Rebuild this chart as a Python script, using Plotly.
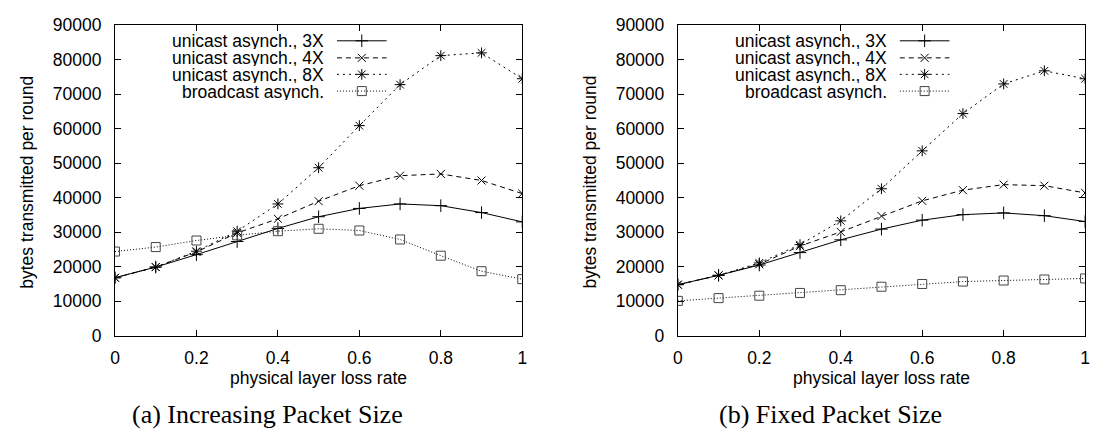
import plotly.graph_objects as go

# x values: physical layer loss rate
loss_rate = [0, 0.1, 0.2, 0.3, 0.4, 0.5, 0.6, 0.7, 0.8, 0.9, 1.0]
x_tick_vals = [0, 0.2, 0.4, 0.6, 0.8, 1.0]
x_tick_text = ["0", "0.2", "0.4", "0.6", "0.8", "1"]
y_tick_vals = [0, 10000, 20000, 30000, 40000, 50000, 60000, 70000, 80000, 90000]

series_names = ["unicast asynch., 3X", "unicast asynch., 4X",
                "unicast asynch., 8X", "broadcast asynch."]

# (a) Increasing Packet Size
inc_uni_3x = [16800, 19900, 23500, 27300, 31100, 34500, 36900, 38200, 37700, 35700, 33000]
inc_uni_4x = [16800, 19900, 24300, 29800, 33900, 39000, 43500, 46400, 46900, 45000, 41200]
inc_uni_8x = [16800, 19900, 24500, 30300, 38200, 48700, 60900, 72800, 81200, 82000, 74500]
inc_bcast = [24400, 25700, 27600, 29100, 30300, 31000, 30500, 27900, 23200, 18700, 16400]

# (b) Fixed Packet Size
fix_uni_3x = [14800, 17500, 20500, 24100, 27800, 30900, 33500, 35100, 35600, 34800, 33100]
fix_uni_4x = [14800, 17500, 20700, 26000, 30100, 34700, 39100, 42200, 43800, 43500, 41400]
fix_uni_8x = [14800, 17500, 21100, 26400, 33300, 42600, 53600, 64400, 73000, 76800, 74500]
fix_bcast = [10100, 10900, 11600, 12400, 13200, 14200, 15000, 15700, 16000, 16300, 16600]

panels = [
    ("(a) Increasing Packet Size", [inc_uni_3x, inc_uni_4x, inc_uni_8x, inc_bcast]),
    ("(b) Fixed Packet Size", [fix_uni_3x, fix_uni_4x, fix_uni_8x, fix_bcast]),
]

# gnuplot-like line/point styles
dashes = ["solid", "5px,4px", "2px,4px", "1px,2px"]
symbols = ["cross-thin", "x-thin", "asterisk-open", "square-open"]
marker_colors = ["black", "black", "black", "#444444"]
marker_sizes = [9, 8, 9, 9]

W, H = 1101, 446
SANS = "Liberation Sans, Arial, sans-serif"
SERIF = "Liberation Serif, Times New Roman, serif"
FS = 17.5

# plot frames in pixels
x_frames = [(111, 522), (679, 1090)]
y_top, y_bot = 16, 341
caption_centers = [265, 833]

# legend geometry (fractions of the plot frame)
leg_text_x = 0.516
leg_line = (0.545, 0.667)
leg_mark_x = 0.606
leg_rows = [0.950, 0.895, 0.842, 0.788]
leg_row_px = 17

fig = go.Figure()
layout = dict(
    width=W, height=H,
    margin=dict(l=0, r=0, t=0, b=0),
    paper_bgcolor="white", plot_bgcolor="white",
    showlegend=False,
    annotations=[],
)

y_dom = [(H - y_bot) / H, (H - y_top) / H]

for p, (caption, series) in enumerate(panels):
    xa = "x" if p == 0 else "x2"
    ya = "y" if p == 0 else "y2"
    xl = "x3" if p == 0 else "x4"
    yl = "y3" if p == 0 else "y4"
    x0, x1 = x_frames[p]
    x_dom = [x0 / W, x1 / W]

    common = dict(ticks="inside", ticklen=6, tickwidth=1, tickcolor="black",
                  showline=True, linecolor="black", linewidth=1, mirror="allticks",
                  showgrid=False, zeroline=False,
                  tickfont=dict(family=SANS, size=FS, color="black"))
    layout["xaxis" + ("" if p == 0 else "2")] = dict(
        domain=x_dom, anchor=ya, range=[0, 1], tickvals=x_tick_vals,
        ticktext=x_tick_text, ticklabelstandoff=6, **common)
    layout["yaxis" + ("" if p == 0 else "2")] = dict(
        domain=y_dom, anchor=xa, range=[0, 90000], tickvals=y_tick_vals,
        tickformat="d", ticklabelstandoff=9, **common)
    # hidden unit axes, laid over each panel, for the key samples
    layout["xaxis" + ("3" if p == 0 else "4")] = dict(
        overlaying=xa, anchor=yl, range=[0, 1], visible=False)
    layout["yaxis" + ("3" if p == 0 else "4")] = dict(
        overlaying=ya, anchor=xl, range=[0, 1], visible=False)

    for i, vals in enumerate(series):
        mk = dict(symbol=symbols[i], size=marker_sizes[i], color=marker_colors[i],
                  line=dict(color=marker_colors[i], width=1))
        fig.add_trace(go.Scatter(
            x=loss_rate, y=vals, xaxis=xa, yaxis=ya, mode="lines+markers",
            name=series_names[i],
            line=dict(color="black", width=1, dash=dashes[i]), marker=mk))
        # key sample line + point
        fig.add_trace(go.Scatter(
            x=list(leg_line), y=[leg_rows[i]] * 2, xaxis=xl, yaxis=yl, mode="lines",
            line=dict(color="black", width=1, dash=dashes[i]), hoverinfo="skip"))
        fig.add_trace(go.Scatter(
            x=[leg_mark_x], y=[leg_rows[i]], xaxis=xl, yaxis=yl, mode="markers",
            marker=mk, hoverinfo="skip"))
        layout["annotations"].append(dict(
            text=series_names[i], xref=xa + " domain", yref=ya + " domain",
            x=leg_text_x, y=leg_rows[i], height=leg_row_px, valign="middle",
            borderpad=0, xanchor="right", yanchor="middle", showarrow=False,
            font=dict(family=SANS, size=FS, color="black")))

    cx = (x0 + x1) / 2 / W
    # axis titles
    layout["annotations"].append(dict(
        text="physical layer loss rate", xref="paper", yref="paper",
        x=cx, y=(H - 385) / H, xanchor="center", yanchor="middle",
        showarrow=False, font=dict(family=SANS, size=FS, color="black")))
    layout["annotations"].append(dict(
        text="bytes transmitted per round", xref="paper", yref="paper",
        x=(x0 - 89) / W, y=(H - 180) / H, xanchor="center", yanchor="middle",
        textangle=-90, showarrow=False,
        font=dict(family=SANS, size=FS, color="black")))
    # sub-figure caption
    layout["annotations"].append(dict(
        text=caption, xref="paper", yref="paper",
        x=caption_centers[p] / W, y=(H - 424) / H, xanchor="center", yanchor="middle",
        showarrow=False, font=dict(family=SERIF, size=26, color="black")))

fig.update_layout(**layout)
fig.write_html("out.html")
